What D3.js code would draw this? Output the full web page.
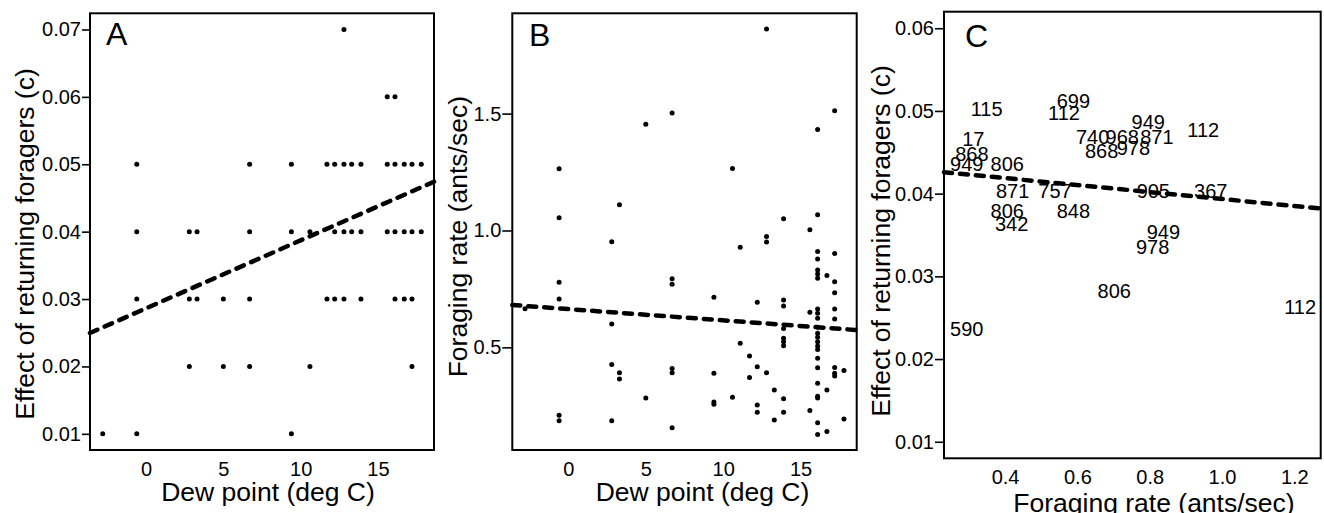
<!DOCTYPE html>
<html>
<head>
<meta charset="utf-8">
<script src="https://cdn.jsdelivr.net/npm/d3@7"></script>
<style>
  html, body { margin: 0; padding: 0; background: #fff; }
  svg { display: block; }
  text { font-family: "Liberation Sans", Arial, sans-serif; fill: #000; }
</style>
</head>
<body>
<svg id="chart" width="1324" height="513"></svg>
<script>
// ---------- Panel A data: dew point vs effect of returning foragers ----------
const dewA = [
  12.8,
  15.6, 16.1,
  -0.6, 6.7, 9.4, 11.7, 12.2, 12.8, 13.3, 13.9, 15.6, 16.1, 16.7, 17.2, 17.8,
  -0.6, 2.8, 3.3, 6.7, 9.4, 10.6, 12.2, 12.8, 13.3, 13.9, 15.6, 16.1, 16.7, 17.2, 17.8,
  -0.6, 2.8, 3.3, 5.0, 6.7, 11.7, 12.2, 12.8, 13.9, 16.1, 16.7, 17.2,
  2.8, 5.0, 6.7, 10.6, 17.2,
  -2.8, -0.6, 9.4
];
const effectA = [
  0.07,
  0.06, 0.06,
  0.05, 0.05, 0.05, 0.05, 0.05, 0.05, 0.05, 0.05, 0.05, 0.05, 0.05, 0.05, 0.05,
  0.04, 0.04, 0.04, 0.04, 0.04, 0.04, 0.04, 0.04, 0.04, 0.04, 0.04, 0.04, 0.04, 0.04, 0.04,
  0.03, 0.03, 0.03, 0.03, 0.03, 0.03, 0.03, 0.03, 0.03, 0.03, 0.03, 0.03,
  0.02, 0.02, 0.02, 0.02, 0.02,
  0.01, 0.01, 0.01
];
const fitA = [0.02862, 0.001009];   // intercept, slope

// ---------- Panel B data: dew point vs foraging rate ----------
const dewB = [
  -2.8,
  -0.6, -0.6, -0.6, -0.6, -0.6, -0.6,
  2.8, 2.8, 2.8, 2.8,
  3.3, 3.3, 3.3,
  5.0, 5.0,
  6.7, 6.7, 6.7, 6.7, 6.7, 6.7,
  9.4, 9.4, 9.4, 9.4,
  10.6, 10.6,
  11.1, 11.1,
  11.7, 11.7,
  12.2, 12.2, 12.2, 12.2,
  12.8, 12.8, 12.8, 12.8,
  13.3, 13.3,
  13.9, 13.9, 13.9, 13.9, 13.9, 13.9, 13.9, 13.9, 13.9,
  15.6, 15.6, 15.6,
  16.1, 16.1, 16.1, 16.1, 16.1, 16.1, 16.1, 16.1, 16.1, 16.1, 16.1, 16.1,
  16.1, 16.1, 16.1, 16.1, 16.1, 16.1, 16.1, 16.1, 16.1, 16.1, 16.1,
  16.7, 16.7, 16.7,
  17.2, 17.2, 17.2, 17.2, 17.2, 17.2, 17.2, 17.2, 17.2,
  17.8, 17.8
];
const rateB = [
  0.665,
  1.264, 1.055, 0.778, 0.707, 0.210, 0.186,
  0.952, 0.600, 0.427, 0.186,
  1.110, 0.391, 0.365,
  1.454, 0.283,
  1.503, 0.793, 0.770, 0.410, 0.391, 0.156,
  0.714, 0.389, 0.266, 0.257,
  1.265, 0.286,
  0.928, 0.517,
  0.463, 0.371,
  0.693, 0.417, 0.253, 0.222,
  1.862, 0.974, 0.951, 0.391,
  0.317, 0.189,
  1.050, 0.703, 0.677, 0.581, 0.539, 0.524, 0.507, 0.280, 0.222,
  1.003, 0.650, 0.230,
  1.432, 1.067, 0.910, 0.878, 0.831, 0.814, 0.796, 0.664, 0.646, 0.624, 0.586, 0.560,
  0.543, 0.524, 0.506, 0.491, 0.453, 0.413, 0.346, 0.291, 0.283, 0.177, 0.127,
  0.807, 0.317, 0.140,
  1.512, 0.902, 0.781, 0.734, 0.664, 0.621, 0.414, 0.389, 0.377,
  0.401, 0.193
];
const fitB = [0.6636, -0.00481];

// ---------- Panel C data: foraging rate vs effect, labelled by colony ----------
const colonyC = ["115", "699", "112", "949", "740", "968", "871", "868", "978", "112",
                 "17", "868", "949", "806", "871", "757", "905", "367", "806", "342",
                 "848", "949", "978", "806", "112", "590"];
const rateC   = [0.349, 0.589, 0.563, 0.796, 0.642, 0.724, 0.820, 0.667, 0.755, 0.948,
                 0.312, 0.308, 0.294, 0.406, 0.421, 0.538, 0.810, 0.969, 0.406, 0.418,
                 0.589, 0.838, 0.808, 0.702, 1.216, 0.294];
const effectC = [0.0502, 0.0512, 0.0498, 0.0487, 0.0469, 0.0469, 0.0469, 0.0452, 0.0456, 0.0477,
                 0.0466, 0.0448, 0.0436, 0.0436, 0.0404, 0.0404, 0.0404, 0.0404, 0.0379, 0.0363,
                 0.0379, 0.0354, 0.0336, 0.0283, 0.0263, 0.0236];
const fitC = [0.04357, -0.00422];

// ---------- Tick values / labels ----------
const ticksDew = [0, 5, 10, 15];
const ticksEffectA = [0.01, 0.02, 0.03, 0.04, 0.05, 0.06, 0.07];
const ticksRateB = [0.5, 1.0, 1.5];
const ticksRateC = [0.4, 0.6, 0.8, 1.0, 1.2];
const ticksEffectC = [0.01, 0.02, 0.03, 0.04, 0.05, 0.06];

const svg = d3.select("#chart");

function panel(cfg) {
  const g = svg.append("g");
  const x = d3.scaleLinear().domain(cfg.xDomain).range([cfg.box[0], cfg.box[2]]);
  const y = d3.scaleLinear().domain(cfg.yDomain).range([cfg.box[3], cfg.box[1]]);

  // y axis
  const ya = g.append("g")
    .attr("transform", `translate(${cfg.box[0]},0)`)
    .call(d3.axisLeft(y).tickValues(cfg.yTicks).tickFormat(cfg.yFmt).tickSize(cfg.tickLen).tickPadding(1));
  ya.select(".domain").remove();
  ya.selectAll("line").attr("stroke", "#000").attr("stroke-width", 1.6);
  ya.selectAll("text").attr("font-size", 20).attr("font-family", '"Liberation Sans", Arial, sans-serif').attr("fill", "#000");

  // x axis
  const xa = g.append("g")
    .attr("transform", `translate(0,${cfg.box[3]})`)
    .call(d3.axisBottom(x).tickValues(cfg.xTicks).tickFormat(cfg.xFmt).tickSize(0).tickPadding(cfg.xPad));
  xa.select(".domain").remove();
  xa.selectAll("text").attr("font-size", 20).attr("font-family", '"Liberation Sans", Arial, sans-serif').attr("fill", "#000");

  // marks
  if (cfg.points) {
    g.append("g").selectAll("circle").data(cfg.points).join("circle")
      .attr("cx", d => x(d[0])).attr("cy", d => y(d[1])).attr("r", 2.5).attr("fill", "#000");
  }
  if (cfg.labels) {
    g.append("g").selectAll("text").data(cfg.labels).join("text")
      .attr("x", d => x(d[0])).attr("y", d => y(d[1])).attr("dy", "0.36em")
      .attr("text-anchor", "middle").attr("font-size", 20).text(d => d[2]);
  }

  // regression line
  const [a, b] = cfg.fit;
  const x0 = cfg.xDomain[0], x1 = cfg.xDomain[1];
  g.append("line")
    .attr("x1", x(x0)).attr("y1", y(a + b * x0))
    .attr("x2", x(x1)).attr("y2", y(a + b * x1))
    .attr("stroke", "#000").attr("stroke-width", 4.5)
    .attr("stroke-dasharray", "8 8").attr("stroke-linecap", "round");

  // box
  g.append("rect")
    .attr("x", cfg.box[0]).attr("y", cfg.box[1])
    .attr("width", cfg.box[2] - cfg.box[0]).attr("height", cfg.box[3] - cfg.box[1])
    .attr("fill", "none").attr("stroke", "#000").attr("stroke-width", 2);

  // panel letter
  g.append("text").attr("x", cfg.letterPos[0]).attr("y", cfg.letterPos[1])
    .attr("font-size", 32).text(cfg.letter);

  // axis titles
  g.append("text").attr("x", cfg.xTitlePos[0]).attr("y", cfg.xTitlePos[1])
    .attr("text-anchor", "middle").attr("font-size", 26.5).text(cfg.xTitle);
  g.append("text")
    .attr("transform", `translate(${cfg.yTitlePos[0]},${cfg.yTitlePos[1]}) rotate(-90)`)
    .attr("text-anchor", "middle").attr("font-size", 26.5).text(cfg.yTitle);
}

const fmt2 = d3.format(".2f");
const fmt1 = d3.format(".1f");
const fmt0 = d3.format("d");

panel({
  box: [90, 13.3, 434, 450],
  xDomain: [-3.624, 18.624], yDomain: [0.0076, 0.0724],
  xTicks: ticksDew, yTicks: ticksEffectA, xFmt: fmt0, yFmt: fmt2,
  tickLen: 8, xPad: 12,
  points: dewA.map((d, i) => [d, effectA[i]]),
  fit: fitA,
  letter: "A", letterPos: [106, 44.5],
  xTitle: "Dew point (deg C)", xTitlePos: [268, 501],
  yTitle: "Effect of returning foragers (c)", yTitlePos: [34, 244]
});

panel({
  box: [512.3, 13.3, 856.7, 450],
  xDomain: [-3.624, 18.624], yDomain: [0.0608, 1.9292],
  xTicks: ticksDew, yTicks: ticksRateB, xFmt: fmt0, yFmt: fmt1,
  tickLen: 10, xPad: 12,
  points: dewB.map((d, i) => [d, rateB[i]]),
  fit: fitB,
  letter: "B", letterPos: [529, 46],
  xTitle: "Dew point (deg C)", xTitlePos: [702.5, 501],
  yTitle: "Foraging rate (ants/sec)", yTitlePos: [467, 236.7]
});

panel({
  box: [944, 11.7, 1320.7, 458.3],
  xDomain: [0.231, 1.273], yDomain: [0.008, 0.062],
  xTicks: ticksRateC, yTicks: ticksEffectC, xFmt: fmt1, yFmt: fmt2,
  tickLen: 9, xPad: 12,
  labels: rateC.map((d, i) => [d, effectC[i], colonyC[i]]),
  fit: fitC,
  letter: "C", letterPos: [965, 46.5],
  xTitle: "Foraging rate (ants/sec)", xTitlePos: [1154, 512],
  yTitle: "Effect of returning foragers (c)", yTitlePos: [890, 241]
});
</script>
</body>
</html>
